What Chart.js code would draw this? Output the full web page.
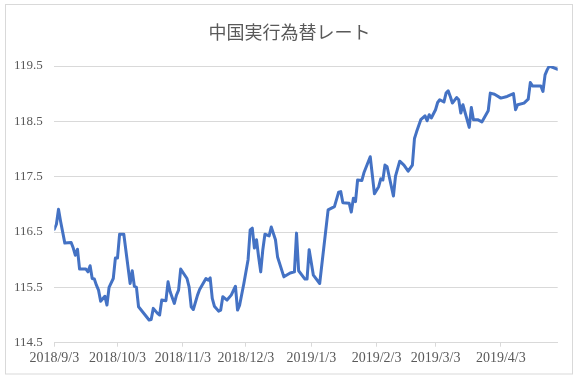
<!DOCTYPE html>
<html>
<head>
<meta charset="utf-8">
<script src="https://cdn.jsdelivr.net/npm/chart.js@4"></script>
<style>
html,body{margin:0;padding:0;background:#fff;}
canvas{display:block;}
</style>
</head>
<body>
<canvas id="c" width="579" height="380"></canvas>
<script>
const titleText = '中国実行為替レート';
const startDate = '2018-09-03';
const endDate = '2019-04-30';
const dates = [
'2018-09-03','2018-09-04','2018-09-05','2018-09-06','2018-09-08','2018-09-11','2018-09-12','2018-09-13','2018-09-14','2018-09-15',
'2018-09-18','2018-09-19','2018-09-20','2018-09-21','2018-09-22','2018-09-23','2018-09-24','2018-09-25','2018-09-27','2018-09-28',
'2018-09-29','2018-10-01','2018-10-02','2018-10-03','2018-10-04','2018-10-06','2018-10-09','2018-10-10','2018-10-11','2018-10-12',
'2018-10-13','2018-10-18','2018-10-19','2018-10-20','2018-10-22','2018-10-23','2018-10-24','2018-10-26','2018-10-27','2018-10-28',
'2018-10-30','2018-10-31','2018-11-01','2018-11-02','2018-11-05','2018-11-06','2018-11-07','2018-11-08','2018-11-10','2018-11-11',
'2018-11-14','2018-11-15','2018-11-16','2018-11-17','2018-11-18','2018-11-20','2018-11-21','2018-11-22','2018-11-23','2018-11-24',
'2018-11-26','2018-11-28','2018-11-29','2018-11-30','2018-12-02','2018-12-04','2018-12-05','2018-12-06','2018-12-07','2018-12-08',
'2018-12-09','2018-12-10','2018-12-11','2018-12-12','2018-12-14','2018-12-15','2018-12-17','2018-12-18','2018-12-21','2018-12-24',
'2018-12-26','2018-12-27','2018-12-28','2018-12-31','2019-01-01','2019-01-02','2019-01-04','2019-01-07','2019-01-11','2019-01-14',
'2019-01-16','2019-01-17','2019-01-18','2019-01-21','2019-01-22','2019-01-23','2019-01-24','2019-01-25','2019-01-27','2019-01-28',
'2019-01-31','2019-02-02','2019-02-04','2019-02-05','2019-02-06','2019-02-07','2019-02-08','2019-02-11','2019-02-12','2019-02-14',
'2019-02-16','2019-02-18','2019-02-20','2019-02-21','2019-02-22','2019-02-24','2019-02-26','2019-02-27','2019-02-28','2019-03-01',
'2019-03-03','2019-03-04','2019-03-05','2019-03-07','2019-03-08','2019-03-09','2019-03-10','2019-03-11','2019-03-13','2019-03-14',
'2019-03-15','2019-03-16','2019-03-19','2019-03-20','2019-03-21','2019-03-23','2019-03-25','2019-03-28','2019-03-29','2019-03-31',
'2019-04-03','2019-04-06','2019-04-09','2019-04-10','2019-04-11','2019-04-14','2019-04-16','2019-04-17','2019-04-18','2019-04-22',
'2019-04-23','2019-04-24','2019-04-25','2019-04-26','2019-04-30'
];
const values = [
116.55,116.64,116.91,116.69,116.30,116.31,116.21,116.08,116.19,115.83,
115.83,115.78,115.89,115.66,115.65,115.54,115.45,115.25,115.34,115.18,
115.50,115.66,116.03,116.03,116.46,116.46,115.57,115.80,115.52,115.50,
115.15,114.91,114.92,115.12,115.03,115.00,115.27,115.26,115.60,115.42,
115.21,115.36,115.45,115.83,115.66,115.51,115.15,115.10,115.36,115.46,
115.66,115.63,115.67,115.30,115.16,115.07,115.09,115.33,115.30,115.27,
115.36,115.52,115.09,115.18,115.57,116.00,116.54,116.57,116.21,116.36,
116.05,115.78,116.18,116.46,116.43,116.59,116.36,116.05,115.69,115.76,
115.78,116.48,115.80,115.65,115.65,116.18,115.72,115.57,116.90,116.96,
117.22,117.23,117.03,117.02,116.86,117.11,117.05,117.44,117.43,117.57,
117.86,117.19,117.32,117.46,117.44,117.71,117.68,117.15,117.51,117.78,
117.71,117.60,117.71,118.19,118.31,118.53,118.60,118.51,118.62,118.56,
118.71,118.84,118.89,118.85,119.01,119.05,118.95,118.83,118.93,118.89,
118.65,118.80,118.39,118.75,118.53,118.53,118.49,118.69,119.01,118.99,
118.92,118.95,119.00,118.71,118.80,118.83,118.90,119.20,119.14,119.14,
119.04,119.34,119.43,119.50,119.44
];
const xTickLabels = ['2018/9/3','2018/10/3','2018/11/3','2018/12/3','2019/1/3','2019/2/3','2019/3/3','2019/4/3'];
const yTicks = [114.5,115.5,116.5,117.5,118.5,119.5];

const DAY = 86400000;
function parseDay(s){
  const p = s.split(/[-\/]/).map(Number);
  return Date.UTC(p[0], p[1]-1, p[2]);
}
const t0 = parseDay(startDate);
const dayOf = s => Math.round((parseDay(s) - t0) / DAY);
const points = dates.map((d,i)=>({x: dayOf(d), y: values[i]}));
const xTickPos = xTickLabels.map(dayOf);

const textColor = '#595959';
const gridColor = '#d9d9d9';
const serif = '"Liberation Serif", "Times New Roman", serif';

const borderPlugin = {
  id: 'outerBorder',
  beforeDraw(chart){
    const ctx = chart.ctx;
    ctx.save();
    ctx.fillStyle = '#fff';
    ctx.fillRect(0,0,chart.width,chart.height);
    ctx.strokeStyle = gridColor;
    ctx.lineWidth = 1;
    ctx.strokeRect(5.5, 4.5, 567, 369.5);
    ctx.restore();
  }
};

new Chart(document.getElementById('c'), {
  type: 'line',
  data: {
    datasets: [{
      data: points,
      borderColor: '#4472C4',
      borderWidth: 3,
      pointRadius: 0,
      tension: 0,
      fill: false,
      borderJoinStyle: 'round',
      borderCapStyle: 'round'
    }]
  },
  options: {
    responsive: false,
    devicePixelRatio: 1,
    animation: false,
    layout: {padding: 0},
    plugins: {
      legend: {display: false},
      tooltip: {enabled: false},
      title: {
        display: true,
        text: titleText,
        color: textColor,
        font: {family: '"Noto Sans CJK JP", "Noto Sans", sans-serif', size: 18, weight: 'normal'},
        padding: {top: 21.7, bottom: 22.7}
      }
    },
    scales: {
      x: {
        type: 'linear',
        min: 0,
        max: dayOf(endDate),
        afterBuildTicks(scale){ scale.ticks = xTickPos.map(v=>({value:v})); },
        afterFit(scale){ scale.height = 37.3; },
        ticks: {
          autoSkip: false, maxRotation: 0, minRotation: 0,
          color: textColor, font: {family: serif, size: 14}, padding: 3.5,
          callback(v){ const i = xTickPos.indexOf(v); return i >= 0 ? xTickLabels[i] : ''; }
        },
        grid: {display: true, drawOnChartArea: false, drawTicks: true, tickLength: 4, color: gridColor},
        border: {display: true, color: gridColor, width: 1}
      },
      y: {
        min: yTicks[0],
        max: yTicks[yTicks.length-1],
        afterBuildTicks(scale){ scale.ticks = yTicks.map(v=>({value:v})); },
        afterFit(scale){ scale.width = 54.3; },
        ticks: {
          color: textColor, font: {family: serif, size: 13}, padding: 11.6,
          callback(v){ return Number(v).toFixed(1); }
        },
        grid: {color: gridColor, drawTicks: false, lineWidth: 1},
        border: {display: false}
      },
      yRight: {
        position: 'right',
        display: true,
        min: yTicks[0],
        max: yTicks[yTicks.length-1],
        afterFit(scale){ scale.width = 21.3; },
        ticks: {display: false},
        grid: {display: false, drawOnChartArea: false, drawTicks: false},
        border: {display: false}
      }
    }
  },
  plugins: [borderPlugin]
});
</script>
</body>
</html>
